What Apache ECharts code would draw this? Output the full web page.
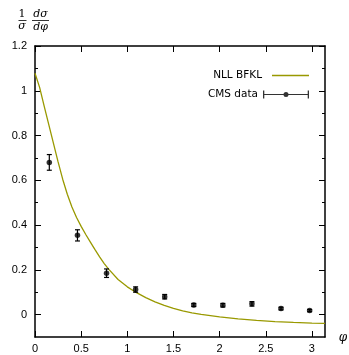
<!DOCTYPE html>
<html><head><meta charset="utf-8">
<script src="https://cdn.jsdelivr.net/npm/echarts@6/dist/echarts.min.js"></script>
<style>html,body{margin:0;padding:0;background:#fff}#c{width:349px;height:355px}</style>
</head><body><div id="c"></div>
<script>
const phiCurve = [0,0.05,0.1,0.15,0.2,0.25,0.3,0.35,0.4,0.45,0.5,0.55,0.6,0.65,0.7,0.75,0.8,0.9,1.0,1.1,1.2,1.3,1.4,1.5,1.6,1.7,1.8,2.0,2.2,2.4,2.6,2.8,3.0,3.1416];
const bfklCurve = [1.078,1.015,0.93,0.848,0.765,0.682,0.605,0.538,0.481,0.434,0.394,0.358,0.324,0.290,0.258,0.228,0.202,0.157,0.124,0.098,0.076,0.057,0.041,0.028,0.017,0.008,0.001,-0.010,-0.019,-0.026,-0.031,-0.035,-0.038,-0.039];
const phiData = [0.155,0.46,0.775,1.09,1.405,1.72,2.035,2.35,2.665,2.975];
const cmsData = [0.68,0.354,0.185,0.112,0.080,0.043,0.042,0.048,0.027,0.018];
const cmsErr = [0.035,0.025,0.019,0.012,0.010,0.007,0.008,0.010,0.006,0.005];
const xTicks = [0,0.5,1,1.5,2,2.5,3];
const yTicks = [0,0.2,0.4,0.6,0.8,1,1.2];
const yMinorTicks = [0.1,0.3,0.5,0.7,0.9,1.1];

const chart = echarts.init(document.getElementById('c'), null, {renderer:'canvas'});
const axisCol = '#000';
const olive = '#999900';
const lineData = phiCurve.map((x,i)=>[x,bfklCurve[i]]);
const pts = phiData.map((x,i)=>[x,cmsData[i]]);
const errs = phiData.map((x,i)=>[x,cmsData[i]-cmsErr[i],cmsData[i]+cmsErr[i]]);
const font = 'Liberation Sans, Arial, sans-serif';
function yAx(pos, vals, len, showLine, showLabel){
  return {type:'value', position:pos, min:-0.1, max:1.2,
    axisLine:{show:showLine, onZero:false, lineStyle:{color:axisCol,width:1.5}},
    axisTick:{show:true, inside:true, length:len, customValues:vals, lineStyle:{color:axisCol,width:1}},
    axisLabel:{show:showLabel, customValues:vals, color:'#000', fontSize:11, fontFamily:font, margin:8, formatter:v=>String(v)},
    splitLine:{show:false}};
}
function xAx(pos, showLabel){
  return {type:'value', position:pos, min:0, max:Math.PI,
    axisLine:{show:true, onZero:false, lineStyle:{color:axisCol,width:1.5}},
    axisTick:{show:true, inside:true, length:6, customValues:xTicks, lineStyle:{color:axisCol,width:1}},
    axisLabel:{show:showLabel, customValues:xTicks, color:'#000', fontSize:11, fontFamily:font, margin:6, formatter:v=>String(v)},
    splitLine:{show:false}};
}
const legendText = {fontSize:10.5, fontFamily:'DejaVu Sans, sans-serif', color:'#000'};
const option = {
  animation:false,
  grid:{left:35, right:24, top:46, bottom:18, containLabel:false},
  xAxis:[xAx('bottom',true), xAx('top',false)],
  yAxis:[yAx('left',yTicks,6,true,true), yAx('left',yMinorTicks,3,false,false),
         yAx('right',yTicks,6,true,false), yAx('right',yMinorTicks,3,false,false)],
  legend:[
    {data:[{name:'NLL BFKL', icon:'path://M0,0h37v1.3h-37z', itemStyle:{color:olive}}], orient:'vertical', align:'right', right:35, top:65,
     itemWidth:37, itemHeight:1.3, textStyle:Object.assign({padding:[0,5,0,0]}, legendText)},
    {data:[{name:'CMS data', icon:'path://M0,0h1.3v8h-1.3z M44.7,0h1.3v8h-1.3z M0,3.4h46v1.2h-46z M20.5,4a2.5,2.5 0 1,1 5,0a2.5,2.5 0 1,1 -5,0z', itemStyle:{color:'#000'}}],
     orient:'vertical', align:'right', right:35, top:84, itemWidth:46, itemHeight:8,
     textStyle:Object.assign({padding:[0,0,0,0]}, legendText)}
  ],
  series:[
    {name:'NLL BFKL', type:'line', data:lineData, smooth:false, showSymbol:false, symbol:'none',
     lineStyle:{color:olive, width:1.3}, itemStyle:{color:olive}, z:2},
    {type:'custom', data:errs, z:3,
     renderItem:function(params, api){
       const x = api.value(0);
       const lo = api.coord([x, api.value(1)]);
       const hi = api.coord([x, api.value(2)]);
       const w = 2.5;
       const st = {stroke:'#000', lineWidth:1.2};
       return {type:'group', children:[
         {type:'line', shape:{x1:lo[0],y1:lo[1],x2:hi[0],y2:hi[1]}, style:st},
         {type:'line', shape:{x1:lo[0]-w,y1:lo[1],x2:lo[0]+w,y2:lo[1]}, style:st},
         {type:'line', shape:{x1:hi[0]-w,y1:hi[1],x2:hi[0]+w,y2:hi[1]}, style:st}
       ]};
     }},
    {name:'CMS data', type:'scatter', data:pts, symbol:'circle', symbolSize:5.5,
     itemStyle:{color:'#000'}, z:4}
  ],
  graphic:[
    {type:'text', x:22, y:14, style:{text:'1', font:'11px "DejaVu Serif", serif', fill:'#000', textAlign:'center', textVerticalAlign:'middle'}},
    {type:'line', shape:{x1:18.5,y1:20.5,x2:26.5,y2:20.5}, style:{stroke:'#000', lineWidth:0.8}},
    {type:'text', x:22, y:26, style:{text:'σ', font:'italic 11px "DejaVu Serif", serif', fill:'#000', textAlign:'center', textVerticalAlign:'middle'}},
    {type:'text', x:40.5, y:14, style:{text:'dσ', font:'italic 11px "DejaVu Serif", serif', fill:'#000', textAlign:'center', textVerticalAlign:'middle'}},
    {type:'line', shape:{x1:32,y1:20.5,x2:49,y2:20.5}, style:{stroke:'#000', lineWidth:0.8}},
    {type:'text', x:40.5, y:27, style:{text:'dφ', font:'italic 11px "DejaVu Serif", serif', fill:'#000', textAlign:'center', textVerticalAlign:'middle'}},
    {type:'text', x:343, y:338, style:{text:'φ', font:'italic 12px "DejaVu Serif", serif', fill:'#000', textAlign:'center', textVerticalAlign:'middle'}}
  ]
};
chart.setOption(option);
</script></body></html>
